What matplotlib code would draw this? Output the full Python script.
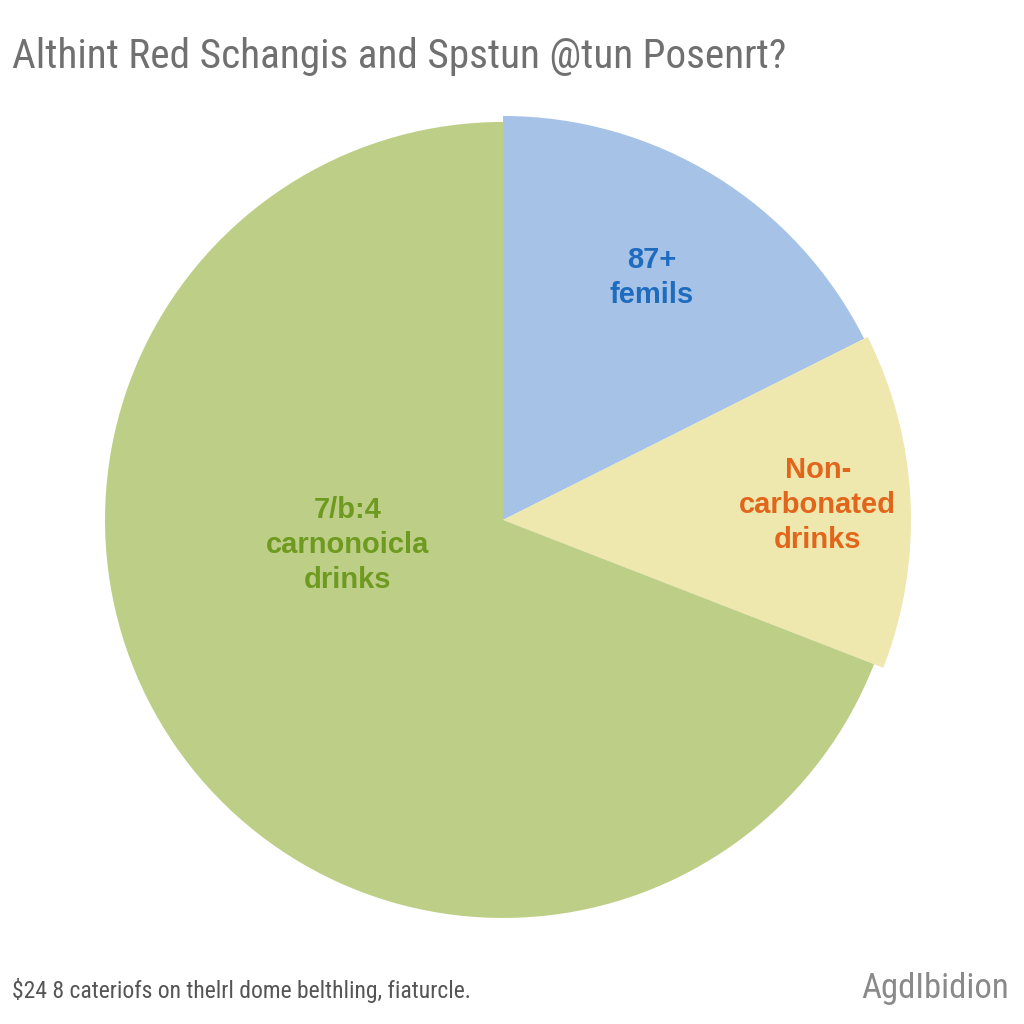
import matplotlib
matplotlib.use("Agg")
import matplotlib.pyplot as plt

# slice data, clockwise from 12 o'clock
LABELS = ["87+\nfemils", "Non-\ncarbonated\ndrinks", "7/b:4\ncarnonoicla\ndrinks"]
SHARES = [17.6, 13.3, 69.1]
COLORS = ["#a6c3e7", "#eee7ae", "#bdce86"]
TEXT_COLORS = ["#1f6cbf", "#e2651c", "#6e9a20"]
RADII = [1.01, 1.02, 0.995]
LABEL_POS = [(0.372, 0.605), (0.787, 0.037), (-0.388, -0.062)]

TITLE = "Althint Red Schangis and Spstun @tun Posenrt?"
FOOTNOTE = "$24 8 cateriofs on thelrl dome belthling, fiaturcle."
SOURCE = "AgdIbidion"

NARROW = ["Roboto Condensed", "Liberation Sans", "DejaVu Sans"]
LABEL_FONT = ["Liberation Sans", "DejaVu Sans"]


def main():
    fig = plt.figure(figsize=(10.24, 10.24), dpi=100)
    fig.patch.set_facecolor("white")

    # centre at about (503, 520) px, radius ~400 px
    ax = fig.add_axes([0.1006, 0.1016, 0.78125, 0.78125])
    wedges, _ = ax.pie(
        SHARES,
        colors=COLORS,
        startangle=90,
        counterclock=False,
        radius=1.0,
        wedgeprops=dict(linewidth=0),
    )
    for w, r in zip(wedges, RADII):
        w.set_radius(r)
    ax.set_xlim(-1, 1)
    ax.set_ylim(-1, 1)
    ax.set_aspect("equal")
    ax.axis("off")

    for text, (x, y), c in zip(LABELS, LABEL_POS, TEXT_COLORS):
        ax.text(x, y, text, ha="center", va="center", color=c,
                fontsize=21, fontweight="bold", linespacing=1.32,
                family=LABEL_FONT)

    fig.text(0.012, 0.945, TITLE, ha="left", va="center", fontsize=29.7,
             fontweight="normal", color="#707070", family=NARROW)
    fig.text(0.012, 0.033, FOOTNOTE, ha="left", va="center", fontsize=17,
             fontweight="normal", color="#555555", family=NARROW)
    fig.text(0.985, 0.035, SOURCE, ha="right", va="center", fontsize=25,
             fontweight="normal", color="#8a8a8a", family=NARROW)

    fig.savefig("out.png", dpi=100)
    plt.close(fig)


if __name__ == "__main__":
    main()
